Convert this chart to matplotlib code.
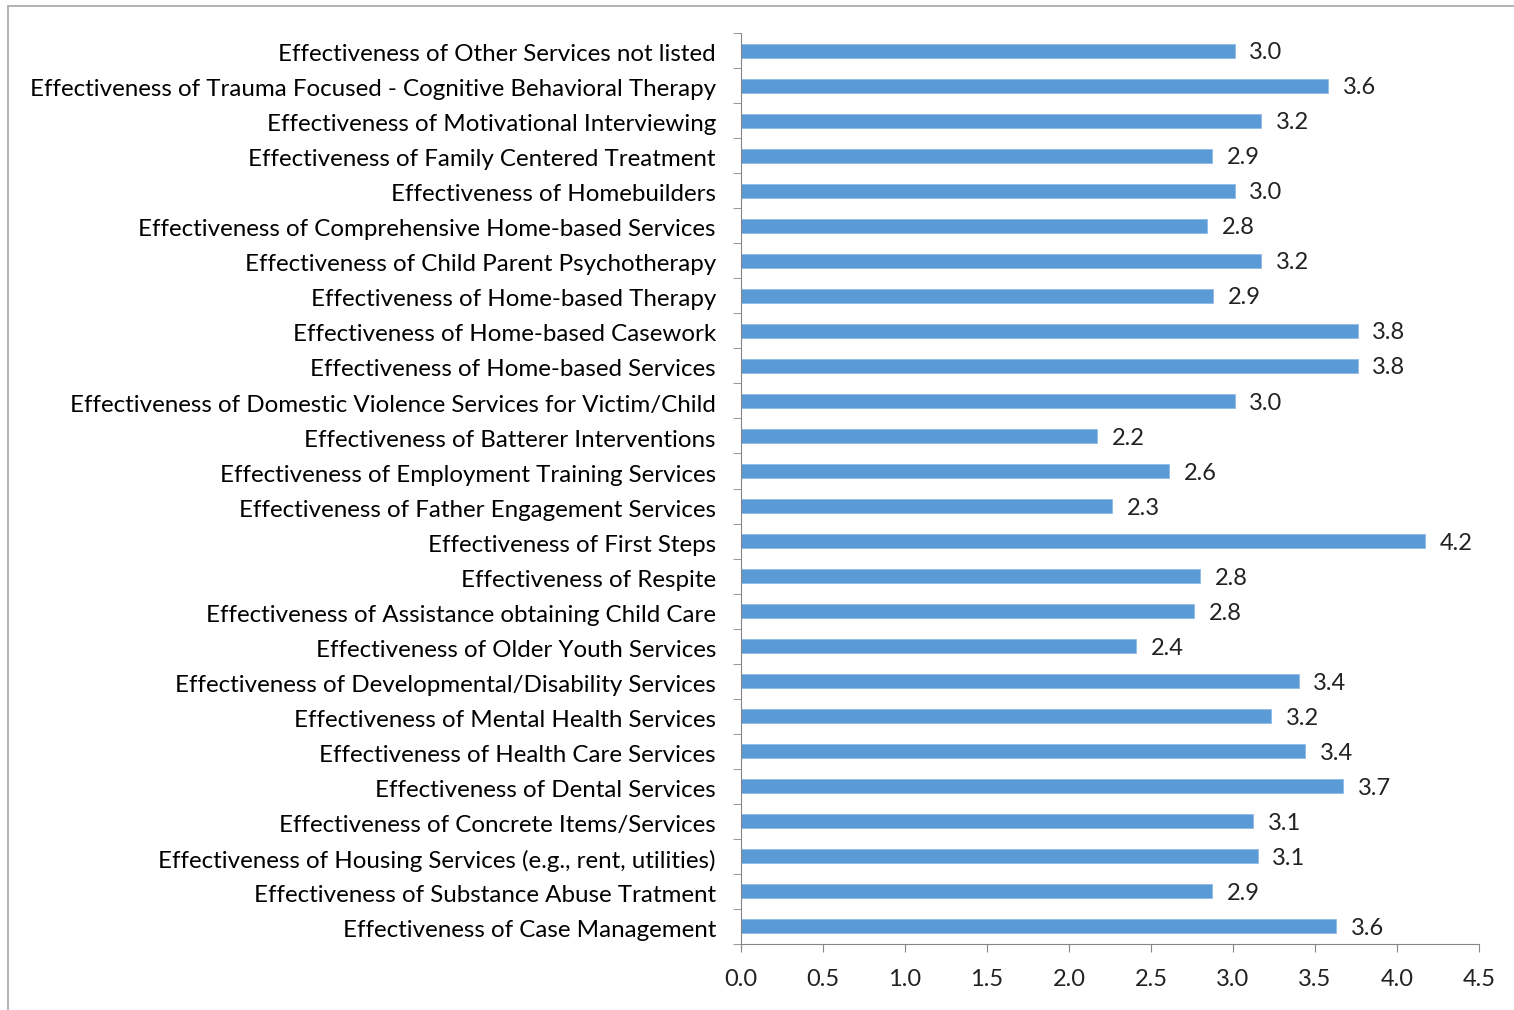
import matplotlib.pyplot as plt
from matplotlib.patches import Rectangle

services = [
    "Effectiveness of Other Services not listed",
    "Effectiveness of Trauma Focused - Cognitive Behavioral Therapy",
    "Effectiveness of Motivational Interviewing",
    "Effectiveness of Family Centered Treatment",
    "Effectiveness of Homebuilders",
    "Effectiveness of Comprehensive Home-based Services",
    "Effectiveness of Child Parent Psychotherapy",
    "Effectiveness of Home-based Therapy",
    "Effectiveness of Home-based Casework",
    "Effectiveness of Home-based Services",
    "Effectiveness of Domestic Violence Services for Victim/Child",
    "Effectiveness of Batterer Interventions",
    "Effectiveness of Employment Training Services",
    "Effectiveness of Father Engagement Services",
    "Effectiveness of First Steps",
    "Effectiveness of Respite",
    "Effectiveness of Assistance obtaining Child Care",
    "Effectiveness of Older Youth Services",
    "Effectiveness of Developmental/Disability Services",
    "Effectiveness of Mental Health Services",
    "Effectiveness of Health Care Services",
    "Effectiveness of Dental Services",
    "Effectiveness of Concrete Items/Services",
    "Effectiveness of Housing Services (e.g., rent, utilities)",
    "Effectiveness of Substance Abuse Tratment",
    "Effectiveness of Case Management",
]
scores = [3.01, 3.58, 3.17, 2.87, 3.01, 2.84, 3.17, 2.88, 3.76, 3.76,
          3.01, 2.17, 2.61, 2.26, 4.17, 2.80, 2.76, 2.41, 3.40, 3.23,
          3.44, 3.67, 3.12, 3.15, 2.87, 3.63]
x_ticks = [0.0, 0.5, 1.0, 1.5, 2.0, 2.5, 3.0, 3.5, 4.0, 4.5]

plt.rcParams["font.family"] = ["Lato", "DejaVu Sans"]

fig = plt.figure(figsize=(15.14, 10.10), dpi=100)
fig.patches.append(Rectangle((8 / 1514, -0.1), 1.2, 1 - 6 / 1010 + 0.1,
                             transform=fig.transFigure, fill=False,
                             edgecolor="#a6a6a6", linewidth=1.2))
ax = fig.add_axes([741 / 1514, 66 / 1010, 738 / 1514, 911 / 1010])

n = len(services)
pos = list(range(n))[::-1]
ax.barh(pos, scores, height=0.4, color="#5b9bd5", edgecolor="#8fbbe6", linewidth=0.6)
for p, v in zip(pos, scores):
    ax.text(v + 0.09, p - 0.06, f"{v:.1f}", va="center", ha="left", fontsize=17, color="#222222")

ax.set_xlim(0, 4.5)
ax.set_ylim(-0.5, n - 0.5)
ax.set_xticks(x_ticks)
ax.set_xticklabels([f"{t:.1f}" for t in x_ticks], fontsize=17)
ax.set_yticks([p - 0.06 for p in pos])
ax.set_yticklabels(services, fontsize=17.4)
ax.set_yticks([i - 0.5 for i in range(n + 1)], minor=True)
ax.tick_params(axis="y", which="major", length=0, pad=18)
ax.tick_params(axis="y", which="minor", length=6, color="#868686", direction="out")
ax.tick_params(axis="x", length=6, color="#868686", direction="out", pad=12, colors="#222222")
ax.tick_params(axis="x", color="#868686")

for s in ["top", "right"]:
    ax.spines[s].set_visible(False)
for s in ["left", "bottom"]:
    ax.spines[s].set_color("#868686")

fig.savefig("out.png", dpi=100)
